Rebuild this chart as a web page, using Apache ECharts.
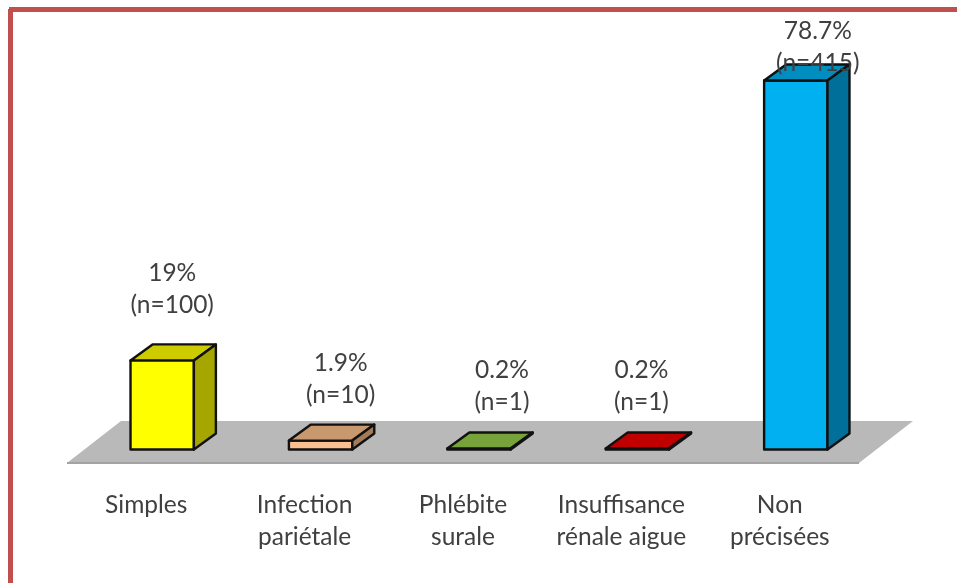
<!DOCTYPE html>
<html>
<head>
<meta charset="utf-8">
<style>html,body{margin:0;padding:0;background:#fff}#chart{width:957px;height:583px}</style>
<script src="https://cdn.jsdelivr.net/npm/echarts@6/dist/echarts.min.js"></script>
</head>
<body>
<div id="chart"></div>
<script>
// Postoperative outcome categories and their shares of the cohort
const categories = ['Simples', 'Infection\npariétale', 'Phlébite\nsurale', 'Insuffisance\nrénale aigue', 'Non\nprécisées'];
const percentages = [19, 1.9, 0.2, 0.2, 78.7];
const counts = [100, 10, 1, 1, 415];
const percentLabels = ['19%', '1.9%', '0.2%', '0.2%', '78.7%'];

// Face colours of each box
const frontColors = ['#FFFF00', '#FAC090', '#77A33B', '#C00000', '#00B0F0'];
const topColors = ['#CCCC00', '#C8996F', '#77A33B', '#C00000', '#008DBF'];
const sideColors = ['#A6A600', '#A37B57', '#5F8230', '#990000', '#00709A'];

// Hand placement of the value labels, relative to the top of each box front
const labelShiftX = [10, 20, 23, 4, 22];
const labelShiftY = [-71, -61, -62, -62, -33];

// Oblique projection of the scene
const FLOOR_DEPTH = [54, -42];
const BOX_DEPTH = [22, -16];
const BOX_INSET = [16, -13.5];
const BAR_RATIO = 0.4;

const TEXT_FONT = 'Lato';
const TEXT_SIZE = 24.5;

const chart = echarts.init(document.getElementById('chart'), null, { renderer: 'canvas' });

function renderFloor(params) {
  const c = params.coordSys;
  const base = c.y + c.height;
  const pts = [
    [c.x, base],
    [c.x + FLOOR_DEPTH[0], base + FLOOR_DEPTH[1]],
    [c.x + c.width + FLOOR_DEPTH[0], base + FLOOR_DEPTH[1]],
    [c.x + c.width, base]
  ];
  return {
    type: 'group',
    children: [
      { type: 'polygon', shape: { points: pts }, style: { fill: '#B9B9B9' } },
      { type: 'line', shape: { x1: c.x, y1: base, x2: c.x + c.width, y2: base },
        style: { stroke: '#A3A3A3', lineWidth: 2 } }
    ]
  };
}

function renderBox(params, api) {
  const i = api.value(0);
  const foot = api.coord([i, 0]);
  const head = api.coord([i, api.value(1)]);
  const w = api.size([1, 0])[0] * BAR_RATIO;
  const x0 = foot[0] + BOX_INSET[0] - w / 2;
  const x1 = x0 + w;
  const yb = foot[1] + BOX_INSET[1];
  const yt = head[1] + BOX_INSET[1];
  const dx = BOX_DEPTH[0];
  const dy = BOX_DEPTH[1];
  const edge = { stroke: '#111', lineWidth: 2.4, lineJoin: 'round' };
  const face = (points, fill) => ({ type: 'polygon', shape: { points }, style: Object.assign({ fill }, edge) });
  return {
    type: 'group',
    children: [
      face([[x0, yb], [x0, yt], [x1, yt], [x1, yb]], frontColors[i]),
      face([[x0, yt], [x0 + dx, yt + dy], [x1 + dx, yt + dy], [x1, yt]], topColors[i]),
      face([[x1, yb], [x1, yt], [x1 + dx, yt + dy], [x1 + dx, yb + dy]], sideColors[i]),
      {
        type: 'text',
        z2: 10,
        style: {
          x: (x0 + x1) / 2 + labelShiftX[i],
          y: yt + labelShiftY[i],
          text: percentLabels[i] + '\n(n=' + counts[i] + ')',
          align: 'center',
          verticalAlign: 'middle',
          fill: '#404040',
          font: TEXT_SIZE + 'px ' + TEXT_FONT,
          lineHeight: 32
        }
      }
    ]
  };
}

chart.setOption({
  animation: false,
  backgroundColor: '#ffffff',
  grid: { left: 67, width: 792, top: 41, height: 422, containLabel: false },
  xAxis: {
    type: 'category',
    data: categories,
    axisLine: { show: false },
    axisTick: { show: false },
    splitLine: { show: false },
    axisLabel: {
      interval: 0,
      margin: 26,
      color: '#404040',
      fontFamily: TEXT_FONT,
      fontSize: TEXT_SIZE,
      lineHeight: 32
    }
  },
  yAxis: { type: 'value', min: 0, max: 90, show: false },
  graphic: [
    // Frame along the top and left edges
    { type: 'rect', z: 100, shape: { x: 9, y: 7, width: 948, height: 5 }, style: { fill: '#C0504D' } },
    { type: 'rect', z: 100, shape: { x: 8, y: 9, width: 5, height: 574 }, style: { fill: '#C0504D' } }
  ],
  series: [
    {
      type: 'custom',
      name: 'floor',
      coordinateSystem: 'cartesian2d',
      clip: false,
      z: 1,
      silent: true,
      data: [[0, 0]],
      renderItem: renderFloor
    },
    {
      type: 'custom',
      name: 'outcomes',
      coordinateSystem: 'cartesian2d',
      clip: false,
      z: 2,
      data: percentages.map((v, i) => [i, v]),
      encode: { x: 0, y: 1 },
      renderItem: renderBox
    }
  ]
});
</script>
</body>
</html>
